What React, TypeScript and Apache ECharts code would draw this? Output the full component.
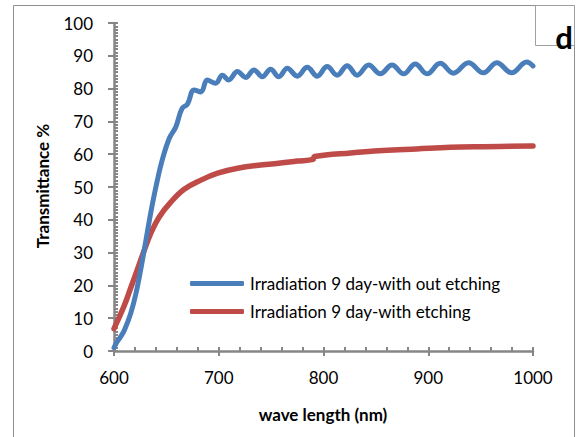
import React, { useEffect, useRef } from "react";
import * as echarts from "echarts";

const seriesNames = [
  "Irradiation 9 day-with out etching",
  "Irradiation 9 day-with etching",
];

// wavelength (nm), transmittance (%)
const blueData: [number, number][] = [
  [600, 1], [602, 2.3], [606, 4.2], [610, 6.4], [616, 11.5], [621, 17.6], [626, 25.7],
  [630.5, 33.8], [635, 42], [640, 50], [646, 58.2], [653, 65], [659, 68.3], [665, 74], [670, 75.2],
  [676.5, 79.6], [683, 79], [689, 82.6], [697, 81.6], [703.5, 84.1], [709.5, 82.6],
  [717.8, 85.2], [725.7, 83.4], [733.6, 85.7], [741.6, 83.6], [749.5, 85.9],
  [757.4, 83.6], [765.4, 86.2], [775, 83.8], [784.5, 86.5], [794, 83.8],
  [803.5, 86.7], [813, 84.1], [822.6, 87.0], [832.1, 84.1], [843.1, 87.2],
  [854.3, 84.5], [865.4, 87.2], [876.5, 84.5], [887.6, 87.5], [898.8, 84.5],
  [911.4, 87.7], [924.1, 84.7], [938.4, 87.9], [952.7, 84.8], [965.4, 87.9],
  [979.7, 84.8], [994, 88.1], [1000, 86.9],
];

const redData: [number, number][] = [
  [600, 6.8], [610, 14], [616, 19.3], [622.5, 25], [629, 30.8],
  [635, 35.8], [643, 40.8], [654, 45.3], [667, 49.3], [683, 52.1], [699, 54.2],
  [718, 55.7], [740, 56.7], [759, 57.3], [775, 57.9], [790, 58.4], [791.5, 59.3],
  [826, 60.4], [857, 61.1], [889, 61.6], [921, 62.1], [953, 62.3], [1000, 62.5],
];

const xTitle = "wave length (nm)";
const yTitle = "Transmittance %";
const panelLabel = "d";

const AXIS = "#868686";
const FONT = "Lato, 'Open Sans', sans-serif";

export default function App() {
  const ref = useRef<HTMLDivElement>(null);
  useEffect(() => {
    if (!ref.current) return;
    const chart = echarts.init(ref.current, undefined, { renderer: "svg" });
    const commonX = { type: "value" as const, min: 600, max: 1000, interval: 100, position: "bottom" as const };
    const commonY = { type: "value" as const, min: 0, max: 100, interval: 10, position: "left" as const };
    chart.setOption({
      animation: false,
      backgroundColor: "#fff",
      grid: { left: 114, right: 48, top: 23, bottom: 86, containLabel: false },
      xAxis: [
        {
          ...commonX,
          axisLine: { show: true, lineStyle: { color: AXIS, width: 2.5 } },
          axisTick: { show: true, length: 5, lineStyle: { color: AXIS, width: 2 } },
          axisLabel: {
            margin: 18,
            fontSize: 17,
            color: "#000",
            fontFamily: FONT,
            formatter: (v: number) => String(v),
          },
          splitLine: { show: false },
        },
        {
          ...commonX,
          axisLine: { show: false },
          axisTick: { show: true, inside: true, length: 4, lineStyle: { color: AXIS, width: 2 } },
          minorTick: { show: true, splitNumber: 5, length: 4, lineStyle: { color: AXIS, width: 2 } },
          axisLabel: { show: false },
          splitLine: { show: false },
        },
      ],
      yAxis: [
        {
          ...commonY,
          axisLine: { show: true, lineStyle: { color: AXIS, width: 2.5 } },
          axisTick: { show: true, length: 6, lineStyle: { color: AXIS, width: 2 } },
          axisLabel: { margin: 21, fontSize: 17, color: "#000", fontFamily: FONT },
          splitLine: { show: false },
        },
        {
          ...commonY,
          axisLine: { show: false },
          axisTick: { show: true, inside: true, length: 4, lineStyle: { color: AXIS, width: 2 } },
          minorTick: { show: true, splitNumber: 10, length: 4, lineStyle: { color: AXIS, width: 2 } },
          axisLabel: { show: false },
          splitLine: { show: false },
        },
      ],
      legend: {
        orient: "vertical",
        left: 190,
        top: 275,
        padding: 0,
        itemGap: 11,
        itemWidth: 54,
        itemHeight: 5,
        icon: "roundRect",
        data: seriesNames,
        textStyle: { fontSize: 17, color: "#000", fontFamily: FONT, padding: [0, 0, 0, 1] },
      },
      series: [
        {
          name: seriesNames[0],
          type: "line",
          data: blueData,
          showSymbol: false,
          symbol: "none",
          smooth: 0.4,
          lineStyle: { color: "#4A7EBB", width: 5, cap: "round", join: "round" },
          itemStyle: { color: "#4A7EBB" },
          z: 3,
        },
        {
          name: seriesNames[1],
          type: "line",
          data: redData,
          showSymbol: false,
          symbol: "none",
          smooth: 0.4,
          lineStyle: { color: "#BE4B48", width: 5.5, cap: "round", join: "round" },
          itemStyle: { color: "#BE4B48" },
          z: 2,
        },
      ],
      graphic: [
        {
          type: "rect",
          shape: { x: 13.5, y: 5.5, width: 561, height: 445 },
          style: { fill: "none", stroke: "#8E8E8E", lineWidth: 1 },
          z: -10,
          silent: true,
        },
        {
          type: "rect",
          shape: { x: 535.5, y: 5.5, width: 39, height: 40 },
          style: { fill: "#fff", stroke: "#A0A0A0", lineWidth: 1 },
          z: 10,
          silent: true,
        },
        {
          type: "text",
          x: 564,
          y: 37,
          style: {
            text: panelLabel,
            fontSize: 31,
            fontWeight: "bold",
            fontFamily: FONT,
            fill: "#000",
            align: "center",
            verticalAlign: "middle",
          },
          z: 11,
        },
        {
          type: "text",
          x: 323,
          y: 414,
          style: {
            text: xTitle,
            fontSize: 17,
            fontWeight: "bold",
            fontFamily: FONT,
            fill: "#000",
            align: "center",
            verticalAlign: "middle",
          },
        },
        {
          type: "text",
          x: 42,
          y: 186,
          rotation: Math.PI / 2,
          style: {
            text: yTitle,
            fontSize: 17,
            fontWeight: "bold",
            fontFamily: FONT,
            fill: "#000",
            align: "center",
            verticalAlign: "middle",
          },
        },
      ],
    });
    return () => chart.dispose();
  }, []);
  return (
    <div
      ref={ref}
      style={{ position: "fixed", left: 0, top: 0, width: 581, height: 437 }}
    />
  );
}
